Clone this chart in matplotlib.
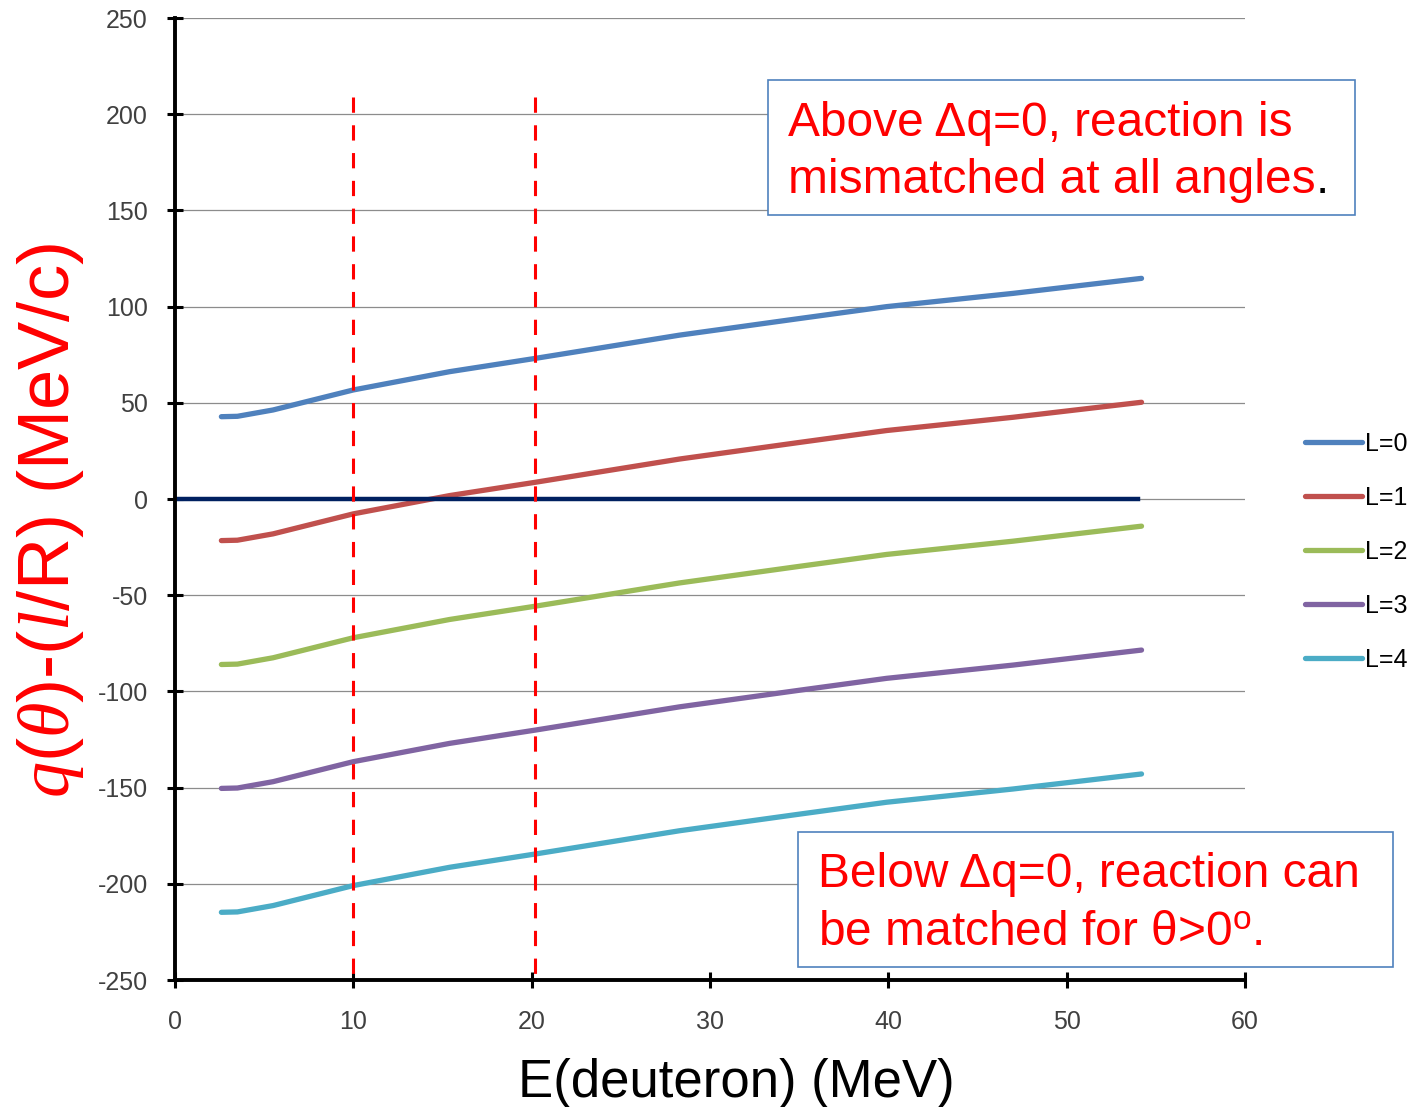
#!/usr/bin/env python3
import matplotlib
matplotlib.use("Agg")
import matplotlib.pyplot as plt
from matplotlib.patches import Rectangle

plt.rcParams['font.family'] = ['Liberation Sans', 'DejaVu Sans']
plt.rcParams['mathtext.fontset'] = 'custom'
plt.rcParams['mathtext.rm'] = 'Liberation Sans'
plt.rcParams['mathtext.it'] = 'Liberation Serif:italic'
plt.rcParams['lines.scale_dashes'] = False
plt.rcParams['axes.unicode_minus'] = False

# deuteron energy (MeV) and q(theta)-(l/R) (MeV/c) for each L
energy = [2.6, 3.5, 5.5, 10, 15.4, 20.2, 28.3, 35, 39.9, 47, 54.2]
q_L0 = [42.8, 43.0, 46.3, 56.7, 66.2, 73.1, 85.2, 93.8, 100.0, 106.9, 114.7]
q_L1 = [-21.6, -21.4, -18.1, -7.7, 1.8, 8.7, 20.8, 29.4, 35.6, 42.5, 50.3]
q_L2 = [-86.0, -85.8, -82.5, -72.1, -62.6, -55.7, -43.6, -35.0, -28.8, -21.9, -14.1]
q_L3 = [-150.4, -150.2, -146.9, -136.5, -127.0, -120.1, -108.0, -99.4, -93.2, -86.3, -78.5]
q_L4 = [-214.8, -214.6, -211.3, -200.9, -191.4, -184.5, -172.4, -163.8, -157.6, -150.7, -142.9]
labels = ["L=0", "L=1", "L=2", "L=3", "L=4"]
colors = ["#4F81BD", "#C0504D", "#9BBB59", "#8064A2", "#4BACC6"]

zero_x = [0, 54]
zero_y = [0, 0]
cut_energies = [10, 20.2]
cut_top = 209

fig = plt.figure(figsize=(14.16, 11.07), dpi=100)
ax = fig.add_axes([0.1236, 0.1147, 0.7556, 0.869])

for y in range(-250, 251, 50):
    ax.axhline(y, color="#8c8c8c", lw=0.9, zorder=1)

for ys, lab, c in zip([q_L0, q_L1, q_L2, q_L3, q_L4], labels, colors):
    ax.plot(energy, ys, color=c, lw=3.8, label=lab,
            solid_capstyle='round', zorder=3)

ax.plot(zero_x, zero_y, color="#002060", lw=3.2, zorder=4)
for e in cut_energies:
    # draw from the top so the dash pattern starts at the upper end
    ax.plot([e, e], [cut_top, -250], color="#FF0000", lw=2.2,
            dashes=(11, 9), zorder=5)

ax.set_xlim(0, 60)
ax.set_ylim(-250, 250)
ax.set_xticks(range(0, 61, 10))
ax.set_yticks(range(-250, 251, 50))
for s in ['top', 'right']:
    ax.spines[s].set_visible(False)
for s in ['left', 'bottom']:
    ax.spines[s].set_linewidth(2.8)
    ax.spines[s].set_zorder(6)
ax.tick_params(axis='both', direction='inout', length=11, width=2.2,
               labelsize=18, labelcolor="#404040")
ax.tick_params(axis='y', pad=14)
ax.tick_params(axis='x', pad=16)

fig.text(0.036, 0.53, r"$q(\theta)$-($l$/R) (MeV/c)", color="#FF0000",
         fontsize=52, rotation=90, ha='center', va='center')
fig.text(0.52, 0.009, "E(deuteron) (MeV)", fontsize=38,
         ha='center', va='baseline')

leg = ax.legend(loc='center left', bbox_to_anchor=(0.9216, 0.5018),
                bbox_transform=fig.transFigure, frameon=False,
                fontsize=18, handlelength=2.3, handletextpad=0.1,
                labelspacing=1.2, borderpad=0, borderaxespad=0)
for line in leg.get_lines():
    line.set_linewidth(3.8)

# annotation boxes (pixel geometry of the reference)
W, H = 1416, 1107
def fx(px):
    return px / W
def fy(py):
    return (H - py) / H

for (x0, y0, x1, y1) in [(768, 80, 1355, 215), (798, 832, 1393, 967)]:
    fig.add_artist(Rectangle((fx(x0), fy(y1)), fx(x1 - x0), (y1 - y0) / H,
                             transform=fig.transFigure, facecolor="white",
                             edgecolor="#4F81BD", lw=1.2, zorder=7))

tkw = dict(fontsize=34.5, color="#FF0000", va='baseline', ha='left', zorder=8)
fig.text(fx(788), fy(136), "Above \u0394q=0, reaction is", **tkw)
t2 = fig.text(fx(788), fy(193), "mismatched at all angles", **tkw)
fig.add_artist(plt.Annotation(".", xy=(1, 0), xycoords=t2, fontsize=34.5,
                              color="black", va='bottom', ha='left', zorder=8))
fig.text(fx(818), fy(887), "Below \u0394q=0, reaction can", **tkw)
fig.text(fx(818), fy(945), "be matched for \u03b8>0$^{\\mathrm{o}}$.", **tkw)

fig.savefig("out.png", dpi=100)
